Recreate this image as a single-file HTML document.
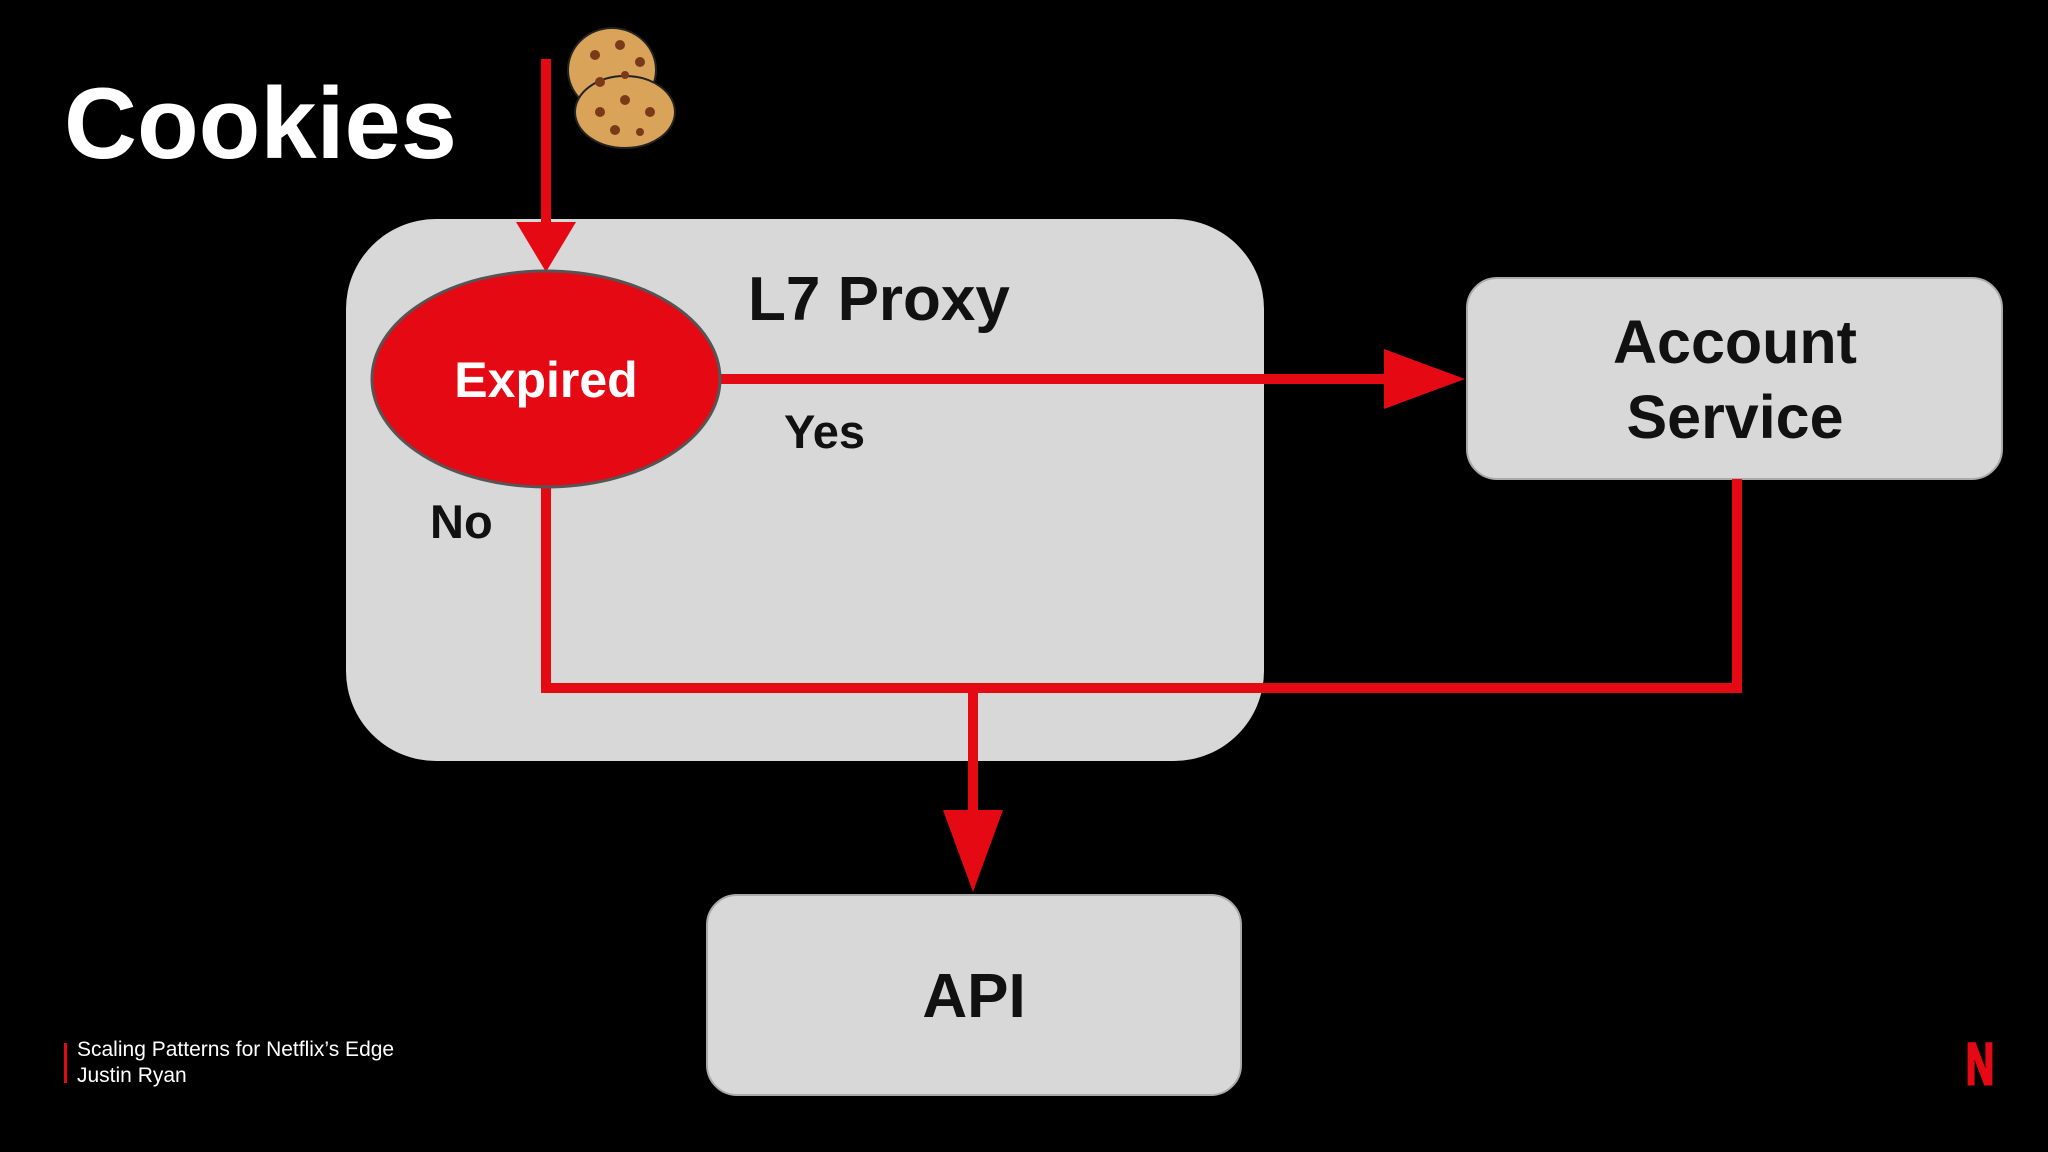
<!DOCTYPE html>
<html><head><meta charset="utf-8"><style>
html,body{margin:0;padding:0;background:#000;}
svg{display:block}
text{font-family:"Liberation Sans",Arial,sans-serif;font-weight:bold;}
</style></head><body>
<svg width="2048" height="1152" viewBox="0 0 2048 1152" xmlns="http://www.w3.org/2000/svg">
<rect width="2048" height="1152" fill="#000"/>
<text x="64" y="158" font-size="101" fill="#fff">Cookies</text>
<!-- cookies -->
<g stroke="#222" stroke-width="2">
<ellipse cx="612" cy="70" rx="44" ry="42" fill="#d9a35a"/>
<ellipse cx="625" cy="112" rx="50" ry="36" fill="#d9a35a"/>
</g>
<g fill="#7a3a1a">
<circle cx="595" cy="55" r="5"/><circle cx="620" cy="45" r="5"/><circle cx="640" cy="62" r="5"/><circle cx="600" cy="82" r="5"/><circle cx="625" cy="75" r="4"/>
<circle cx="600" cy="112" r="5"/><circle cx="625" cy="100" r="5"/><circle cx="650" cy="112" r="5"/><circle cx="615" cy="130" r="5"/><circle cx="640" cy="132" r="4"/>
</g>
<!-- proxy box -->
<rect x="346" y="219" width="918" height="542" rx="90" fill="#d8d8d8"/>
<rect x="1467" y="278" width="535" height="201" rx="30" fill="#d8d8d8" stroke="#aaa" stroke-width="2"/>
<rect x="707" y="895" width="534" height="200" rx="30" fill="#d8d8d8" stroke="#aaa" stroke-width="2"/>
<!-- lines -->
<g stroke="#e50914" stroke-width="10" fill="none" stroke-linejoin="miter">
<line x1="546" y1="59" x2="546" y2="230"/>
<line x1="718" y1="379" x2="1395" y2="379"/>
<polyline points="546,487 546,688 1737,688 1737,479"/>
<line x1="973" y1="688" x2="973" y2="820"/>
</g>
<g fill="#e50914">
<polygon points="516,222 576,222 546,272"/>
<polygon points="1384,349 1384,409 1465,379"/>
<polygon points="943,810 1003,810 973,892"/>
</g>
<ellipse cx="546" cy="379" rx="174" ry="108" fill="#e50914" stroke="#555" stroke-width="3"/>
<text x="546" y="397" font-size="50" fill="#fff" text-anchor="middle">Expired</text>
<text x="748" y="320" font-size="62" fill="#111">L7 Proxy</text>
<text x="784" y="448" font-size="47" fill="#111">Yes</text>
<text x="430" y="538" font-size="47" fill="#111">No</text>
<text x="1735" y="363" font-size="61" fill="#111" text-anchor="middle">Account</text>
<text x="1735" y="438" font-size="61" fill="#111" text-anchor="middle">Service</text>
<text x="974" y="1017" font-size="62" fill="#111" text-anchor="middle">API</text>
<rect x="64" y="1043" width="3" height="40" fill="#e50914"/>
<text x="77" y="1056" font-size="21" fill="#fff" style="font-weight:normal">Scaling Patterns for Netflix’s Edge</text>
<text x="77" y="1082" font-size="21" fill="#fff" style="font-weight:normal">Justin Ryan</text>
<text x="1966" y="1084" font-size="58" fill="#e50914" stroke="#e50914" stroke-width="3" textLength="28" lengthAdjust="spacingAndGlyphs">N</text>
</svg>
</body></html>
